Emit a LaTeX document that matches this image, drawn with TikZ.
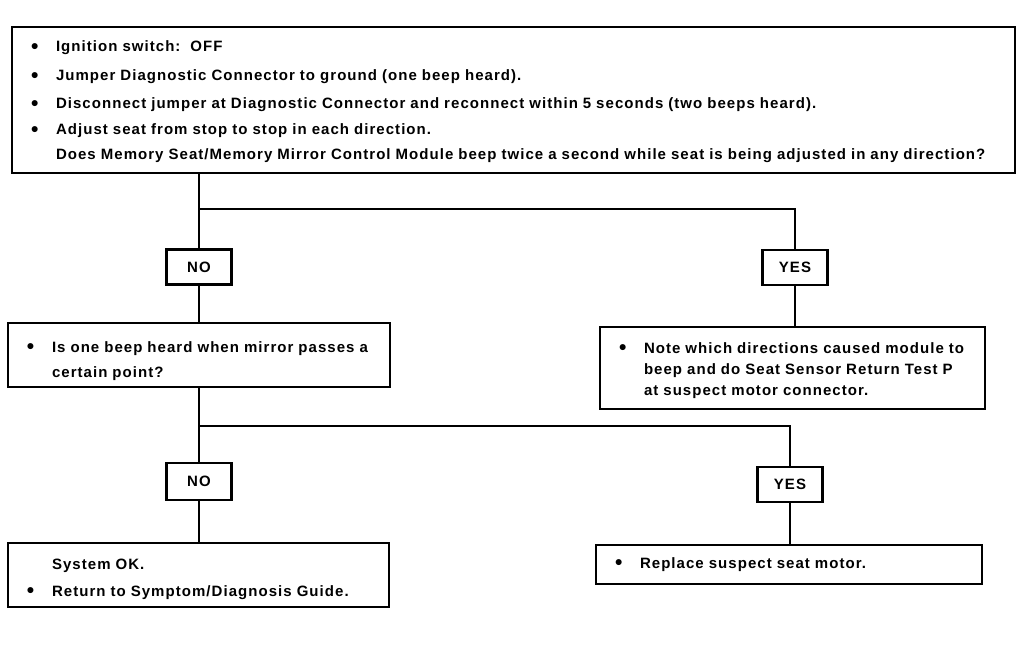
\documentclass[tikz,border=0pt]{standalone}
\usepackage{fontspec}
\setmainfont{Liberation Sans}[LetterSpace=7]
\usetikzlibrary{positioning}

\tikzset{
    textbox/.style = {
        rectangle,
        draw=black,
        line width=2.1pt,
        text width=#1,
        align=left,
        inner xsep=19pt,
        inner ysep=0pt,
        font=\bfseries\fontsize{15}{25}\selectfont
    },
    answer/.style = {
        rectangle,
        draw=black,
        line width=2.1pt,
        minimum width=65pt,
        minimum height=35pt,
        inner sep=0pt,
        font=\bfseries\fontsize{15}{17}\selectfont
    },
    link/.style = {line width=2pt}
}
\newcommand{\bul}{\makebox[25pt][l]{\raisebox{-1.5pt}{\fontsize{21}{21}\selectfont\textbullet}}}
\newcommand{\nobul}{\hspace*{25pt}}

\begin{document}
\begin{tikzpicture}[x=1pt, y=-1pt]
\useasboundingbox (0,0) rectangle (1024,664);

% question boxes
\node (check) [textbox=965pt, minimum width=1003pt, minimum height=146pt] at (513.5,100)
{\rule{0pt}{15pt}\bul Ignition switch:\ \ OFF\\[4pt]
\bul Jumper Diagnostic Connector to ground (one beep heard).\\[3pt]
\bul Disconnect jumper at Diagnostic Connector and reconnect within 5 seconds (two beeps heard).\\[1pt]
\bul Adjust seat from stop to stop in each direction.\\
\nobul Does Memory Seat/Memory Mirror Control Module beep twice a second while seat is being adjusted in any direction?};

\node (nomain) [answer] at (199,267) {NO};
\node (yesmain) [answer] at (795,267.5) {YES};

\node (mirror) [textbox=344pt, minimum width=382pt, minimum height=64pt] at (199,355)
{\rule{0pt}{23pt}\bul Is one beep heard when mirror passes a\\
\nobul certain point?};

\node (note) [textbox=347pt, minimum width=385pt, minimum height=82pt] at (792.5,368)
{\rule{0pt}{16pt}\bul Note which directions caused module to\\[-4pt]
\nobul beep and do Seat Sensor Return Test P\\[-4pt]
\nobul at suspect motor connector.};

\node (nosub) [answer, minimum height=37pt] at (199,481.5) {NO};
\node (yessub) [answer] at (790,484.5) {YES};

% result boxes
\node (sysok) [textbox=343pt, minimum width=381pt, minimum height=64pt] at (198.5,575)
{\rule{0pt}{19pt}\nobul System OK.\\[2pt]
\bul Return to Symptom/Diagnosis Guide.};

\node (replace) [textbox=348pt, minimum width=386pt, minimum height=39pt] at (789,564.5)
{\bul Replace suspect seat motor.};

% connectors
\coordinate (split1) at (199,209);
\coordinate (split2) at (199,426);

\draw [link] (check.south -| nomain) -- (nomain.north);
\draw [link] (split1) -| (yesmain.north);
\draw [link] (nomain.south) -- (mirror.north -| nomain);
\draw [link] (yesmain.south) -- (note.north -| yesmain);
\draw [link] (mirror.south -| nosub) -- (nosub.north);
\draw [link] (split2) -| (yessub.north);
\draw [link] (nosub.south) -- (sysok.north -| nosub);
\draw [link] (yessub.south) -- (replace.north -| yessub);

\end{tikzpicture}
\end{document}
